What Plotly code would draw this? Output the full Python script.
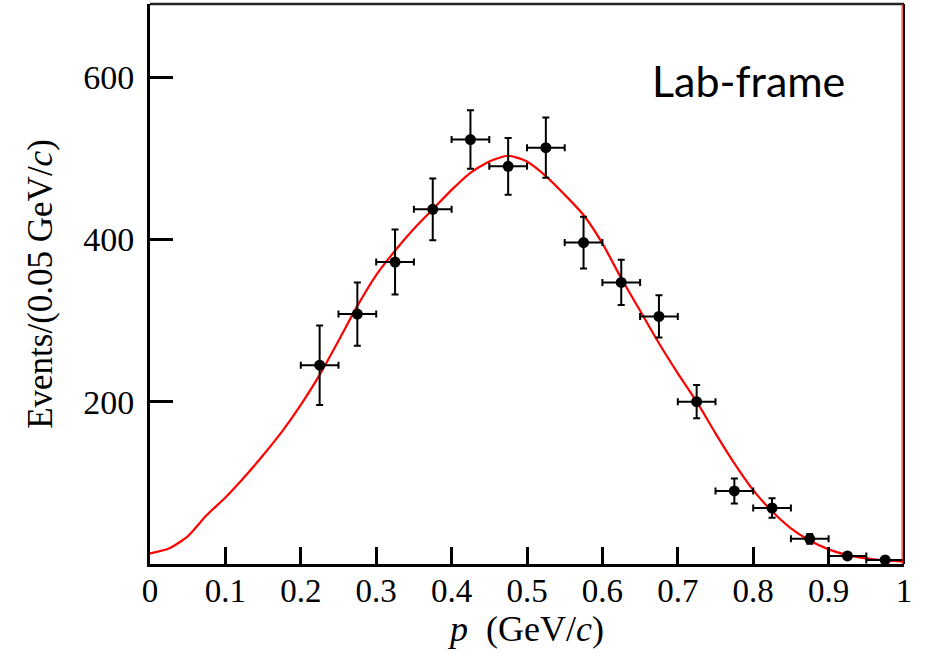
import plotly.graph_objects as go

# Measured momentum spectrum (bin centres, counts, uncertainties)
p_centres = [0.225, 0.275, 0.325, 0.375, 0.425, 0.475, 0.525, 0.575, 0.625,
             0.675, 0.725, 0.775, 0.825, 0.875, 0.925, 0.975]
events = [245, 308, 372, 437, 523, 490, 513, 396, 347, 305, 200, 90, 69, 31, 10, 5]
events_err = [49, 39, 40, 38, 36, 35, 37, 32, 28, 26, 20.5, 15.5, 12, 6, 3, 2]
p_half_bin = [0.025] * len(p_centres)

# Fit curve sampled along p
fit_p = [0.0, 0.025, 0.05, 0.075, 0.10, 0.125, 0.15, 0.175, 0.20, 0.225, 0.25,
         0.275, 0.30, 0.325, 0.35, 0.375, 0.40, 0.425, 0.45, 0.475, 0.50, 0.525,
         0.55, 0.575, 0.60, 0.625, 0.65, 0.675, 0.70, 0.725, 0.75, 0.775, 0.80,
         0.825, 0.85, 0.875, 0.90, 0.925, 0.95, 0.975, 1.0]
fit_events = [13, 19, 34, 60, 82, 107, 134, 163, 196, 233, 275, 318, 356, 386,
              413, 437, 461, 482, 496, 503, 496, 478, 455, 430, 395, 352, 312,
              272, 235, 200, 161, 124, 91, 65, 44, 29, 18, 11, 7, 4.3, 3]

y_ticks = [200, 400, 600]
x_ticks = [0, 0.1, 0.2, 0.3, 0.4, 0.5, 0.6, 0.7, 0.8, 0.9, 1]
x_tick_text = ["0", "0.1", "0.2", "0.3", "0.4", "0.5", "0.6", "0.7", "0.8", "0.9", "1"]

SERIF = "Liberation Serif, Times New Roman, serif"

fig = go.Figure()

fig.add_trace(go.Scatter(
    x=fit_p, y=fit_events, mode="lines",
    line=dict(color="#ff0000", width=2.2, shape="spline", smoothing=0.6),
    hoverinfo="skip", showlegend=False,
))

fig.add_trace(go.Scatter(
    x=p_centres, y=events, mode="markers",
    marker=dict(color="black", size=11),
    error_x=dict(type="data", array=p_half_bin, color="black", thickness=2, width=3.5),
    error_y=dict(type="data", array=events_err, color="black", thickness=2, width=3.5),
    showlegend=False,
))

fig.update_layout(
    width=927, height=654,
    margin=dict(l=150, r=23, t=4, b=90),
    paper_bgcolor="white", plot_bgcolor="white",
    font=dict(family=SERIF, color="black"),
    xaxis=dict(
        range=[0, 1], tickvals=x_ticks, ticktext=x_tick_text,
        ticks="inside", ticklen=17, tickwidth=2.5, tickcolor="black",
        showline=True, linecolor="black", linewidth=3,
        showgrid=False, zeroline=False,
        tickfont=dict(family=SERIF, size=33),
        ticklabelstandoff=-5,
        title=dict(text="<i>p</i>  (GeV/<i>c</i>)", font=dict(family=SERIF, size=36), standoff=0),
    ),
    yaxis=dict(
        range=[0, 690], tickvals=y_ticks,
        ticks="inside", ticklen=23, tickwidth=2.5, tickcolor="black",
        showline=True, linecolor="black", linewidth=3,
        showgrid=False, zeroline=False,
        tickfont=dict(family=SERIF, size=34),
        ticklabelstandoff=6,
        title=dict(text="Events/(0.05 GeV/<i>c</i>)", font=dict(family=SERIF, size=35), standoff=20),
    ),
)

# Top and right frame edges
fig.add_shape(type="line", xref="paper", yref="paper", x0=0, x1=1, y0=1, y1=1,
              line=dict(color="#222222", width=2.5))
fig.add_shape(type="line", xref="x", yref="paper", x0=0.9975, x1=0.9975, y0=0, y1=1,
              line=dict(color="#ff0000", width=1))
fig.add_shape(type="line", xref="paper", yref="paper", x0=1, x1=1, y0=0, y1=1,
              line=dict(color="black", width=2))

fig.add_annotation(
    text="Lab-frame", xref="paper", yref="paper", x=0.794, y=0.864,
    xanchor="center", yanchor="middle", showarrow=False,
    font=dict(family="Lato, Open Sans, sans-serif", size=43, color="black"),
)

fig.write_html("out.html")
